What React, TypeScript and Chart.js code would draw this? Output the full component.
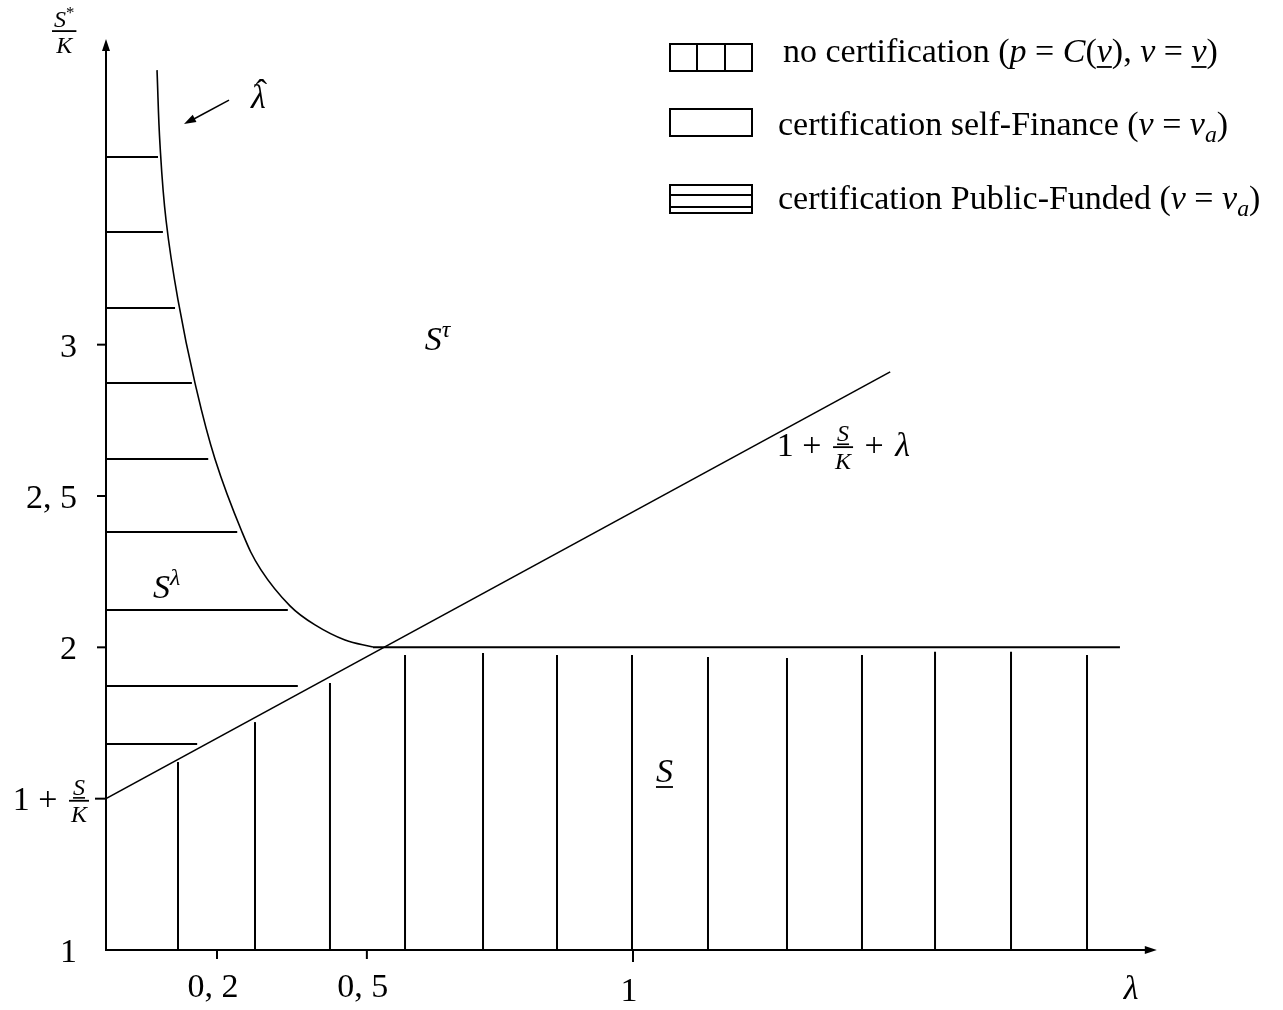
import React, { useEffect, useRef } from "react";
import { Chart, registerables } from "chart.js";

Chart.register(...registerables);

// ---------- data (λ on x, S*/K on y) ----------
const lineLambda = [0, 1.488];
const lineValue = [1.5, 2.91];

const floorLambda = [0.5066, 1.924];
const floorValue = [2, 2];

const curveLambda = [0.0968, 0.1025, 0.1139, 0.1366, 0.1689, 0.2068, 0.2581, 0.2941, 0.3491, 0.3966, 0.4535, 0.5066];
const curveValue = [3.907, 3.66, 3.412, 3.148, 2.873, 2.622, 2.381, 2.256, 2.137, 2.074, 2.024, 2.001];

const hHatchValue = [3.62, 3.372, 3.121, 2.873, 2.622, 2.381, 2.123, 1.872, 1.681];
const hHatchEnd = [0.0987, 0.108, 0.131, 0.163, 0.194, 0.249, 0.345, 0.364, 0.173];

const vHatchLambda = [0.1366, 0.2827, 0.425, 0.5674, 0.7154, 0.8558, 0.9981, 1.1423, 1.2922, 1.4345, 1.5731, 1.7173, 1.8615];
const vHatchTop = [1.621, 1.753, 1.882, 1.975, 1.981, 1.975, 1.975, 1.968, 1.965, 1.975, 1.985, 1.985, 1.975];

const xTickValues = [0.2106, 0.495, 1];
const xTickLabels = ["0, 2", "0, 5", "1"];
const yTickValues = [3, 2.5, 2, 1.5, 1];
const yTickLabels = ["3", "2, 5", "2", "1 + S/K", "1"];

const SERIF = '"Liberation Serif", "DejaVu Serif", serif';
const BASE = 34;
const SMALL = 24;

type Seg = { t: string; it?: boolean; sup?: boolean; sub?: boolean; ul?: boolean };

function fnt(size: number, it?: boolean) {
  return `${it ? "italic " : ""}${size}px ${SERIF}`;
}

function richWidth(ctx: CanvasRenderingContext2D, segs: Seg[], base: number) {
  let w = 0;
  for (const s of segs) {
    const size = s.sup || s.sub ? base * 0.7 : base;
    ctx.font = fnt(size, s.it);
    w += ctx.measureText(s.t).width;
  }
  return w;
}

function drawRich(ctx: CanvasRenderingContext2D, x: number, y: number, segs: Seg[], base: number) {
  let cx = x;
  ctx.textBaseline = "alphabetic";
  ctx.textAlign = "left";
  for (const s of segs) {
    const size = s.sup || s.sub ? base * 0.7 : base;
    ctx.font = fnt(size, s.it);
    const dy = s.sup ? -base * 0.38 : s.sub ? base * 0.2 : 0;
    ctx.fillText(s.t, cx, y + dy);
    const w = ctx.measureText(s.t).width;
    if (s.ul) ctx.fillRect(cx, y + dy + base * 0.12, w, 1.8);
    cx += w;
  }
  return cx;
}

function drawFrac(ctx: CanvasRenderingContext2D, x: number, barY: number, num: Seg[], den: Seg[], size: number, ulNum: boolean) {
  const nw = richWidth(ctx, num, size);
  const dw = richWidth(ctx, den, size);
  const w = Math.max(nw, dw) + 4;
  ctx.fillRect(x, barY - 0.8, w, 1.8);
  if (ulNum) {
    ctx.fillRect(x + (w - nw) / 2, barY - 3.6, nw, 1.6);
    drawRich(ctx, x + (w - nw) / 2, barY - 6, num, size);
  } else {
    drawRich(ctx, x + (w - nw) / 2, barY - 4, num, size);
  }
  drawRich(ctx, x + (w - dw) / 2, barY + size * 0.9, den, size);
  return x + w;
}

function arrowHead(ctx: CanvasRenderingContext2D, tx: number, ty: number, ang: number, len: number, half: number) {
  ctx.beginPath();
  ctx.moveTo(tx, ty);
  ctx.lineTo(tx - len * Math.cos(ang) + half * Math.sin(ang), ty - len * Math.sin(ang) - half * Math.cos(ang));
  ctx.lineTo(tx - len * Math.cos(ang) - half * Math.sin(ang), ty - len * Math.sin(ang) + half * Math.cos(ang));
  ctx.closePath();
  ctx.fill();
}

function legendSegs(i: number): Seg[] {
  if (i === 0)
    return [
      { t: "no certification (" },
      { t: "p", it: true },
      { t: " = " },
      { t: "C", it: true },
      { t: "(" },
      { t: "v", it: true, ul: true },
      { t: "), " },
      { t: "v", it: true },
      { t: " = " },
      { t: "v", it: true, ul: true },
      { t: ")" },
    ];
  const head = i === 1 ? "certification self-Finance (" : "certification Public-Funded (";
  return [{ t: head }, { t: "v", it: true }, { t: " = " }, { t: "v", it: true }, { t: "a", it: true, sub: true }, { t: ")" }];
}

const decorPlugin = {
  id: "decor",
  afterDatasetsDraw(chart: any) {
    const ctx: CanvasRenderingContext2D = chart.ctx;
    const xs = chart.scales.x;
    const ys = chart.scales.y;
    const px = (v: number) => xs.getPixelForValue(v);
    const py = (v: number) => ys.getPixelForValue(v);
    ctx.save();
    ctx.fillStyle = "#000";
    ctx.strokeStyle = "#000";
    ctx.lineCap = "butt";

    const x0 = px(0);
    const y0 = py(1);
    const xEnd = px(1.994);
    const yTop = py(4.0);

    // axes
    ctx.lineWidth = 2;
    ctx.beginPath();
    ctx.moveTo(x0 - 1, y0);
    ctx.lineTo(xEnd - 6, y0);
    ctx.moveTo(x0, y0 + 1);
    ctx.lineTo(x0, yTop + 6);
    ctx.stroke();
    arrowHead(ctx, xEnd, y0, 0, 12, 4);
    arrowHead(ctx, x0, yTop - 3, -Math.PI / 2, 12, 4);

    // y ticks
    for (let i = 0; i < yTickValues.length; i++) {
      const v = yTickValues[i];
      const y = py(v);
      if (v !== 1) {
        ctx.beginPath();
        ctx.moveTo(x0 - (v === 1.5 ? 11 : 9), y);
        ctx.lineTo(x0, y);
        ctx.stroke();
      }
      const lab = yTickLabels[i];
      if (lab.includes("S/K")) {
        ctx.font = fnt(BASE);
        const w1 = ctx.measureText("1 + ").width + 3;
        const fw = richWidth(ctx, [{ t: "K", it: true }], SMALL) + 4;
        const right = x0 - 17;
        const left = right - fw - w1;
        drawRich(ctx, left, y + 11, [{ t: "1 + " }], BASE);
        drawFrac(ctx, left + w1, y + 2, [{ t: "S", it: true }], [{ t: "K", it: true }], SMALL, true);
      } else {
        ctx.font = fnt(BASE);
        ctx.textAlign = "right";
        ctx.textBaseline = "alphabetic";
        ctx.fillText(lab, x0 - 29, y + 12);
      }
    }

    // x ticks
    for (let i = 0; i < xTickValues.length; i++) {
      const x = px(xTickValues[i]);
      ctx.beginPath();
      ctx.moveTo(x, y0);
      ctx.lineTo(x, y0 + (xTickValues[i] === 1 ? 12 : 9));
      ctx.stroke();
      ctx.font = fnt(BASE);
      ctx.textAlign = "center";
      ctx.textBaseline = "alphabetic";
      ctx.fillText(xTickLabels[i], x - 4, y0 + (xTickValues[i] === 1 ? 51 : 47));
    }

    // axis titles
    drawFrac(ctx, 52, 31, [{ t: "S", it: true }, { t: "*", sup: true }], [{ t: "K", it: true }], SMALL, false);
    ctx.font = fnt(BASE, true);
    ctx.textAlign = "left";
    ctx.fillText("λ", px(1.99) - 31, y0 + 49);

    // region labels
    drawRich(ctx, px(0.605), py(2.982), [{ t: "S", it: true }, { t: "τ", it: true, sup: true }], BASE);
    drawRich(ctx, px(0.0892), py(2.163), [{ t: "S", it: true }, { t: "λ", it: true, sup: true }], BASE);
    drawRich(ctx, px(1.0436), py(1.555), [{ t: "S", it: true, ul: true }], BASE);

    // 1 + S/K + λ
    {
      const bx = px(1.273);
      const by = py(2.632);
      let cx = drawRich(ctx, bx, by, [{ t: "1 + " }], BASE);
      cx = drawFrac(ctx, cx + 3, by - 9, [{ t: "S", it: true }], [{ t: "K", it: true }], SMALL, true);
      cx = drawRich(ctx, cx + 3, by, [{ t: " + " }], BASE);
      drawRich(ctx, cx + 3, by, [{ t: "λ", it: true }], BASE);
    }

    // λ̂ with arrow
    {
      const lx = px(0.275);
      const ly = py(3.782);
      ctx.font = fnt(BASE, true);
      ctx.textAlign = "left";
      ctx.fillText("λ", lx, ly);
      const lw = ctx.measureText("λ").width;
      ctx.font = fnt(BASE);
      ctx.textAlign = "center";
      ctx.fillText("ˆ", lx + lw / 2 + 3, ly - 5);
      const ax1 = px(0.2334), ay1 = py(3.808);
      const ax2 = px(0.148), ay2 = py(3.729);
      ctx.lineWidth = 1.5;
      ctx.beginPath();
      ctx.moveTo(ax1, ay1);
      ctx.lineTo(ax2 + 8, ay2 - 4);
      ctx.stroke();
      arrowHead(ctx, ax2, ay2, Math.atan2(ay2 - ay1, ax2 - ax1), 12, 4);
    }

    // legend
    ctx.lineWidth = 2;
    const lx = 670, lw = 82;
    ctx.strokeRect(lx, 44, lw, 27);
    ctx.beginPath();
    ctx.moveTo(lx + 27, 44);
    ctx.lineTo(lx + 27, 71);
    ctx.moveTo(lx + 55, 44);
    ctx.lineTo(lx + 55, 71);
    ctx.stroke();
    ctx.strokeRect(lx, 109, lw, 27);
    ctx.strokeRect(lx, 185, lw, 28);
    ctx.beginPath();
    ctx.moveTo(lx, 195);
    ctx.lineTo(lx + lw, 195);
    ctx.moveTo(lx, 207);
    ctx.lineTo(lx + lw, 207);
    ctx.stroke();

    drawRich(ctx, 783, 62, legendSegs(0), BASE);
    drawRich(ctx, 778, 135, legendSegs(1), BASE);
    drawRich(ctx, 778, 209, legendSegs(2), BASE);

    ctx.restore();
  },
};

function seg(x1: number, y1: number, x2: number, y2: number, width: number) {
  return {
    data: [
      { x: x1, y: y1 },
      { x: x2, y: y2 },
    ],
    showLine: true,
    borderColor: "#000",
    borderWidth: width,
    pointRadius: 0,
    fill: false,
  };
}

export default function App() {
  const ref = useRef<HTMLCanvasElement | null>(null);
  useEffect(() => {
    if (!ref.current) return;
    const datasets: any[] = [];
    datasets.push({ ...seg(lineLambda[0], lineValue[0], lineLambda[1], lineValue[1], 1.6), label: "1 + S/K + λ" });
    datasets.push({ ...seg(floorLambda[0], floorValue[0], floorLambda[1], floorValue[1], 2), label: "floor" });
    datasets.push({
      label: "λ̂",
      data: curveLambda.map((x, i) => ({ x, y: curveValue[i] })),
      showLine: true,
      borderColor: "#000",
      borderWidth: 1.6,
      pointRadius: 0,
      fill: false,
      tension: 0.4,
    });
    hHatchValue.forEach((v, i) => datasets.push({ ...seg(0, v, hHatchEnd[i], v, 2), label: "h" + i }));
    vHatchLambda.forEach((x, i) => datasets.push({ ...seg(x, 1, x, vHatchTop[i], 2), label: "v" + i }));

    const chart = new Chart(ref.current, {
      type: "scatter",
      data: { datasets },
      options: {
        animation: false,
        responsive: false,
        maintainAspectRatio: false,
        devicePixelRatio: 1,
        layout: { padding: { left: 106, right: 123, top: 42, bottom: 60 } },
        plugins: { legend: { display: false }, tooltip: { enabled: false } },
        scales: {
          x: { type: "linear", min: 0, max: 2, display: false },
          y: { type: "linear", min: 1, max: 4, display: false },
        },
      },
      plugins: [decorPlugin],
    } as any);
    return () => chart.destroy();
  }, []);
  return (
    <div style={{ position: "absolute", left: 0, top: 0, width: 1283, height: 1010, background: "#fff" }}>
      <canvas ref={ref} width={1283} height={1010} style={{ width: 1283, height: 1010, display: "block" }} />
    </div>
  );
}
